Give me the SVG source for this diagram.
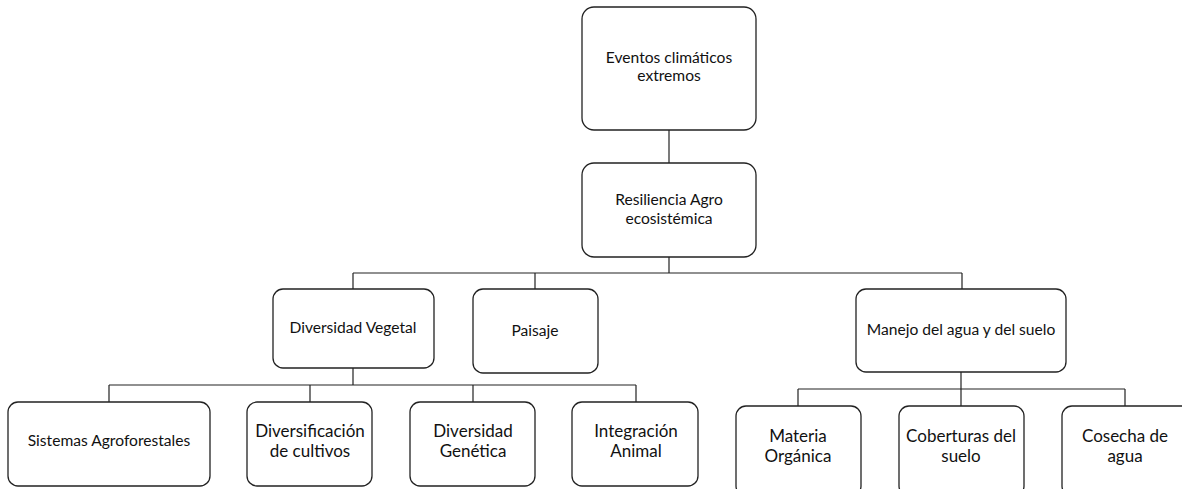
<svg xmlns="http://www.w3.org/2000/svg" width="1182" height="489" viewBox="0 0 1182 489">
<style>
.box{fill:#fff;stroke:#222;stroke-width:1.3}
.ln{fill:none;stroke:#222;stroke-width:1.2}
text{font-family:Lato,"Liberation Sans",sans-serif;fill:#111;text-anchor:middle}
.s{font-size:15.6px}
.m{font-size:17px}
</style>
<rect width="1182" height="489" fill="#fff"/>
<g id="connectors">
<path class="ln" d="M669,130V163"/>
<path class="ln" d="M669,257V273M353,273H962M353,273V289M535,273V289M962,273V289"/>
<path class="ln" d="M353,368V385M109,385H636M109,385V402M310,385V402M473,385V402M636,385V402"/>
<path class="ln" d="M961,372V389M798,389H1125M798,389V406M961,389V406M1125,389V406"/>
</g>
<g id="n1"><rect class="box" x="582" y="7" width="174" height="123" rx="12"/><text class="s" x="669" y="63">Eventos climáticos</text><text class="s" x="669" y="81">extremos</text></g>
<g id="n2"><rect class="box" x="582" y="163" width="174" height="94" rx="12"/><text class="s" x="669" y="205">Resiliencia  Agro</text><text class="s" x="669" y="224">ecosistémica</text></g>
<g id="n3"><rect class="box" x="273" y="289" width="161" height="79" rx="10"/><text class="s" x="353" y="333">Diversidad Vegetal</text></g>
<g id="n4"><rect class="box" x="473" y="289" width="125" height="84" rx="10"/><text class="s" x="535" y="336">Paisaje</text></g>
<g id="n5"><rect class="box" x="856" y="289" width="210" height="83" rx="10"/><text class="s" x="961" y="335">Manejo del agua y del suelo</text></g>
<g id="n6"><rect class="box" x="8" y="402" width="202" height="84" rx="10"/><text class="s" x="109" y="446">Sistemas Agroforestales</text></g>
<g id="n7"><rect class="box" x="247" y="402" width="125" height="84" rx="10"/><text class="m" x="310" y="437">Diversificación</text><text class="m" x="310" y="457">de cultivos</text></g>
<g id="n8"><rect class="box" x="410" y="402" width="125" height="84" rx="10"/><text class="m" x="473" y="437">Diversidad</text><text class="m" x="473" y="457">Genética</text></g>
<g id="n9"><rect class="box" x="572" y="402" width="126" height="84" rx="10"/><text class="m" x="636" y="437">Integración</text><text class="m" x="636" y="457">Animal</text></g>
<g id="n10"><rect class="box" x="736" y="406" width="125" height="90" rx="10"/><text class="m" x="798" y="442">Materia</text><text class="m" x="798" y="462">Orgánica</text></g>
<g id="n11"><rect class="box" x="899" y="406" width="125" height="90" rx="10"/><text class="m" x="961" y="442">Coberturas del</text><text class="m" x="961" y="462">suelo</text></g>
<g id="n12"><rect class="box" x="1062" y="406" width="130" height="90" rx="10"/><text class="m" x="1125" y="442">Cosecha de</text><text class="m" x="1125" y="462">agua</text></g>
</svg>
